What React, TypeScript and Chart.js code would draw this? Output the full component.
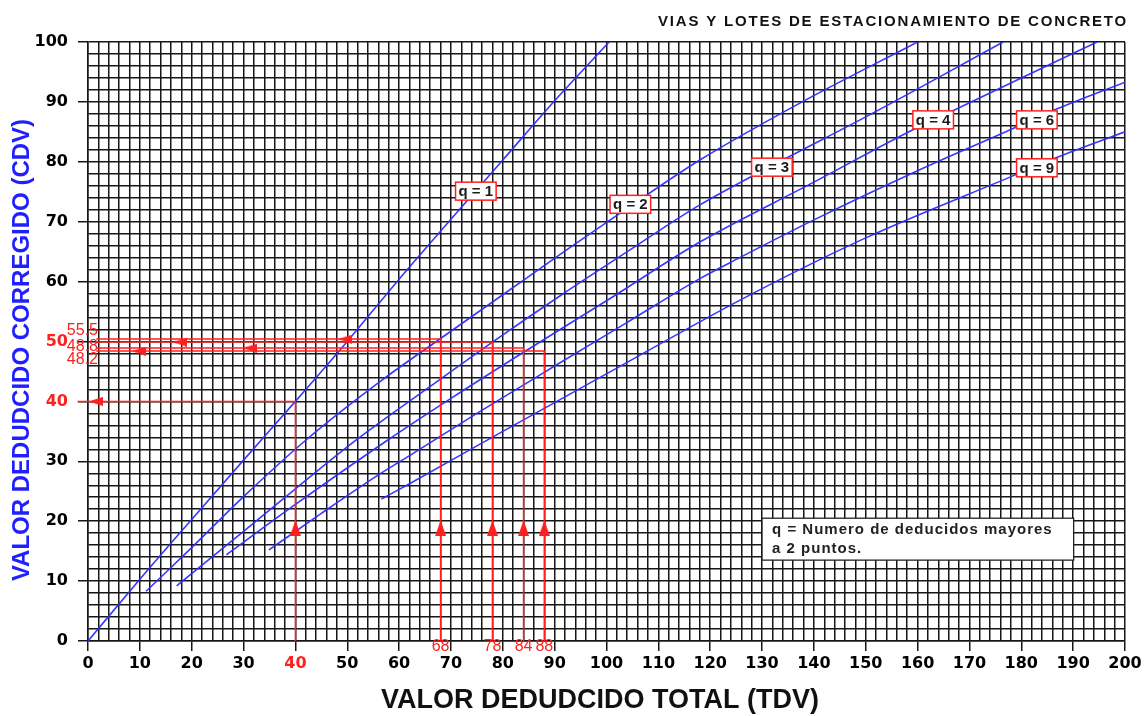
import React, { useEffect, useRef } from 'react';
import { Chart, registerables } from 'chart.js';

Chart.register(...registerables);

// ---- curve data (TDV -> CDV) ----
const q1X = [0, 10, 20, 30, 40, 50, 60, 70, 80, 90, 100.5];
const q1Y = [0, 10.3, 20.3, 30.2, 40, 50, 60.4, 70.4, 80.3, 90.2, 100];

const q2X = [11.2, 20, 30, 42.1, 56.3, 68, 80, 92.3, 104.6, 118, 137.3, 160];
const q2Y = [8.3, 15.6, 24.1, 33.6, 43.3, 50.5, 57.8, 65.3, 72.6, 80.3, 89.8, 100];

const q3X = [17.1, 30, 40, 51.8, 66, 78, 91, 104, 118, 132, 150, 176.5];
const q3Y = [9.2, 18.3, 25.4, 33.6, 42.5, 49.9, 57.6, 65.0, 72.8, 79.4, 87.5, 100];

const q4X = [26.7, 40, 57.9, 70, 84, 100, 118, 140, 159, 167, 180, 194.6];
const q4Y = [14.4, 22.8, 33.6, 40.5, 48.2, 56.8, 66.6, 76.6, 85.3, 88.6, 94.0, 100];

const q6X = [34.9, 45, 56.3, 62.1, 75, 90, 104, 118, 125.7, 140, 160, 179.1, 186.8, 200];
const q6Y = [15.2, 21.3, 27.9, 31, 38.0, 45.9, 53.2, 60.5, 64.0, 70.3, 78.5, 85.8, 88.8, 93.3];

const q9X = [56.6, 62.1, 80, 100, 126.4, 150, 179.1, 186.8, 200];
const q9Y = [23.7, 26.3, 35.0, 44.6, 57.2, 67.3, 77.9, 80.7, 85.0];

// ---- q labels ----
const qLabelText = ['q = 1', 'q = 2', 'q = 3', 'q = 4', 'q = 6', 'q = 9'];
const qLabelX = [74.8, 104.6, 131.9, 163, 183, 183];
const qLabelY = [75.1, 72.9, 79.1, 87, 87, 79];

// ---- readings drawn in red ----
const readTDV = [40, 68, 78, 84, 88];
const readCDV = [40, 50.4, 49.9, 48.9, 48.4];
const readLineStart = [-2, 1.6, 1.6, 1.6, 1.6];
const hArrowX = [1.5, 49.6, 17.7, 31.2, 9.8];
const vArrowY = [18.85, 18.85, 18.85, 18.85, 18.85];
const bottomLabels = ['', '68', '78', '84', '88'];
const sideLabelText = ['55.5', '48.8', '48.2'];
const sideLabelY = [51.75, 49.1, 46.9];

// ---- stray marks ----
const dotX = [-1.0, -1.0, -1.0, -1.0, 2.0, 3.9, 7.8];
const dotY = [8.2, 6.35, 4.05, 2.17, -0.8, -0.8, -0.8];

// ---- axes ----
const xMin = 0, xMax = 200, xStep = 2;
const yMin = 0, yMax = 100, yStep = 2;
const redXTicks = [40];
const redYTicks = [40, 50];

const zip = (xs: number[], ys: number[]) => xs.map((x, i) => ({ x, y: ys[i] }));

function makeArrow(w: number, h: number, dir: 'up' | 'left', color: string) {
  const c = document.createElement('canvas');
  c.width = w;
  c.height = h;
  const g = c.getContext('2d')!;
  g.fillStyle = color;
  g.beginPath();
  if (dir === 'up') {
    g.moveTo(w / 2, 0);
    g.lineTo(w, h);
    g.lineTo(0, h);
  } else {
    g.moveTo(0, h / 2);
    g.lineTo(w, 0);
    g.lineTo(w, h);
  }
  g.closePath();
  g.fill();
  return c;
}

const RED = '#ff1f1f';
const BLUE = 'rgba(45,45,255,0.95)';
const GRID = '#161616';
const TICKFONT = { family: '"DejaVu Sans", Verdana, sans-serif', size: 16, weight: 'bold' as const };

export default function App() {
  const ref = useRef<HTMLCanvasElement | null>(null);

  useEffect(() => {
    document.body.style.margin = '0';
    const canvas = ref.current!;
    const upArrow = makeArrow(11, 16, 'up', RED);
    const leftArrow = makeArrow(14, 9, 'left', RED);

    const curves = [
      [q1X, q1Y], [q2X, q2Y], [q3X, q3Y], [q4X, q4Y], [q6X, q6Y], [q9X, q9Y],
    ].map(([xs, ys]) => ({
      type: 'line' as const,
      data: zip(xs, ys),
      borderColor: BLUE,
      borderWidth: 1.6,
      pointRadius: 0,
      cubicInterpolationMode: 'monotone' as const,
      fill: false,
      order: 3,
    }));

    const redLines = readTDV.map((t, i) => ({
      type: 'line' as const,
      data: [
        { x: readLineStart[i], y: readCDV[i] },
        { x: t, y: readCDV[i] },
        { x: t, y: 0 },
      ],
      borderColor: RED,
      borderWidth: 1.5,
      pointRadius: 0,
      tension: 0,
      fill: false,
      clip: false as any,
      order: 2,
    }));

    const hArrows = {
      type: 'scatter' as const,
      data: zip(hArrowX, readCDV),
      pointStyle: leftArrow as any,
      pointRadius: 7,
      clip: false as any,
      order: 1,
    };
    const vArrows = {
      type: 'scatter' as const,
      data: zip(readTDV, vArrowY),
      pointStyle: upArrow as any,
      pointRadius: 8,
      clip: false as any,
      order: 1,
    };
    const dots = {
      type: 'scatter' as const,
      data: zip(dotX, dotY),
      pointRadius: 0.9,
      pointBackgroundColor: '#3030ff',
      pointBorderWidth: 0,
      clip: false as any,
      order: 1,
    };

    const textPlugin = {
      id: 'texts',
      afterDatasetsDraw(chart: any) {
        const ctx = chart.ctx as CanvasRenderingContext2D;
        const xs = chart.scales.x;
        const ys = chart.scales.y;
        ctx.save();
        // q labels
        ctx.font = 'bold 15px "Liberation Sans", Arial, sans-serif';
        ctx.textAlign = 'center';
        ctx.textBaseline = 'middle';
        qLabelText.forEach((t, i) => {
          const px = xs.getPixelForValue(qLabelX[i]);
          const py = ys.getPixelForValue(qLabelY[i]);
          const w = ctx.measureText(t).width + 6;
          const h = 18;
          ctx.fillStyle = '#fff';
          ctx.fillRect(px - w / 2, py - h / 2, w, h);
          ctx.strokeStyle = RED;
          ctx.lineWidth = 1.5;
          ctx.strokeRect(px - w / 2, py - h / 2, w, h);
          ctx.fillStyle = '#1a1a1a';
          ctx.fillText(t, px, py + 1);
        });
        // legend box
        const l = xs.getPixelForValue(130.0);
        const r = xs.getPixelForValue(190.1);
        const top = ys.getPixelForValue(20.5);
        const bot = ys.getPixelForValue(13.5);
        ctx.fillStyle = '#fff';
        ctx.fillRect(l, top, r - l, bot - top);
        ctx.strokeStyle = '#222';
        ctx.lineWidth = 1.3;
        ctx.strokeRect(l, top, r - l, bot - top);
        ctx.fillStyle = '#222';
        ctx.textAlign = 'left';
        (ctx as any).letterSpacing = '1px';
        ctx.fillText('q = Numero de deducidos mayores', l + 10, top + 12);
        ctx.fillText('a 2 puntos.', l + 10, top + 31);
        (ctx as any).letterSpacing = '0px';
        // red side labels
        ctx.font = '16px "Liberation Sans", Arial, sans-serif';
        ctx.fillStyle = RED;
        ctx.textAlign = 'right';
        sideLabelText.forEach((t, i) => {
          ctx.fillText(t, chart.chartArea.left + 10, ys.getPixelForValue(sideLabelY[i]));
        });
        // red bottom labels
        ctx.textAlign = 'center';
        bottomLabels.forEach((t, i) => {
          if (!t) return;
          ctx.fillText(t, xs.getPixelForValue(readTDV[i]), chart.chartArea.bottom + 6);
        });
        ctx.restore();
      },
      afterDraw(chart: any) {
        const ctx = chart.ctx as CanvasRenderingContext2D;
        const ca = chart.chartArea;
        ctx.save();
        // title
        ctx.font = 'bold 15px "Liberation Sans", Arial, sans-serif';
        (ctx as any).letterSpacing = '1.8px';
        ctx.fillStyle = '#111';
        ctx.textAlign = 'right';
        ctx.textBaseline = 'middle';
        ctx.fillText('VIAS Y LOTES DE ESTACIONAMIENTO DE CONCRETO', ca.right + 3, 22);
        (ctx as any).letterSpacing = '0px';
        // x title
        ctx.font = 'bold 27px "Liberation Sans", Arial, sans-serif';
        ctx.textAlign = 'center';
        ctx.fillText('VALOR DEDUDCIDO TOTAL (TDV)', 600, 701);
        // y title
        ctx.translate(22, 350);
        ctx.rotate(-Math.PI / 2);
        ctx.font = 'bold 24px "Liberation Sans", Arial, sans-serif';
        ctx.fillStyle = '#1f1fff';
        ctx.fillText('VALOR DEDUDCIDO CORREGIDO (CDV)', 0, 0);
        ctx.restore();
      },
    };

    const chart = new Chart(canvas, {
      type: 'line',
      data: { datasets: [...curves, ...redLines, hArrows, vArrows, dots] as any },
      options: {
        animation: false,
        responsive: false,
        events: [],
        layout: { padding: { top: 42, right: 21, left: 0, bottom: 0 } },
        plugins: { legend: { display: false }, tooltip: { enabled: false }, title: { display: false } },
        scales: {
          x: {
            type: 'linear',
            min: xMin,
            max: xMax,
            afterFit: (s: any) => { s.height = 75; s.paddingLeft = 0; s.paddingRight = 0; },
            ticks: {
              stepSize: xStep,
              autoSkip: false,
              maxRotation: 0,
              padding: 3,
              font: TICKFONT,
              color: (c: any) => (c.tick && redXTicks.includes(c.tick.value) ? RED : '#000'),
              callback: (v: any) => (Number(v) % 10 === 0 ? String(v) : ''),
            },
            grid: {
              color: GRID,
              lineWidth: 1.5,
              tickLength: 10,
              tickColor: (c: any) => (c.tick && c.tick.value % 10 === 0 ? GRID : 'rgba(0,0,0,0)'),
            },
            border: { display: true, color: GRID, width: 1.5 },
          },
          y: {
            type: 'linear',
            min: yMin,
            max: yMax,
            afterFit: (s: any) => { s.width = 88; s.paddingTop = 0; s.paddingBottom = 0; },
            ticks: {
              stepSize: yStep,
              autoSkip: false,
              padding: 10,
              font: TICKFONT,
              color: (c: any) => (c.tick && redYTicks.includes(c.tick.value) ? RED : '#000'),
              callback: (v: any) => (Number(v) % 10 === 0 ? String(v) : ''),
            },
            grid: {
              color: GRID,
              lineWidth: 1.5,
              tickLength: 10,
              tickColor: (c: any) => (c.tick && c.tick.value % 10 === 0 ? GRID : 'rgba(0,0,0,0)'),
            },
            border: { display: true, color: GRID, width: 1.5 },
          },
        },
      },
      plugins: [textPlugin],
    });
    return () => chart.destroy();
  }, []);

  return (
    <div style={{ width: 1146, height: 716, background: '#fff' }}>
      <canvas ref={ref} width={1146} height={716} style={{ display: 'block', width: 1146, height: 716 }} />
    </div>
  );
}
